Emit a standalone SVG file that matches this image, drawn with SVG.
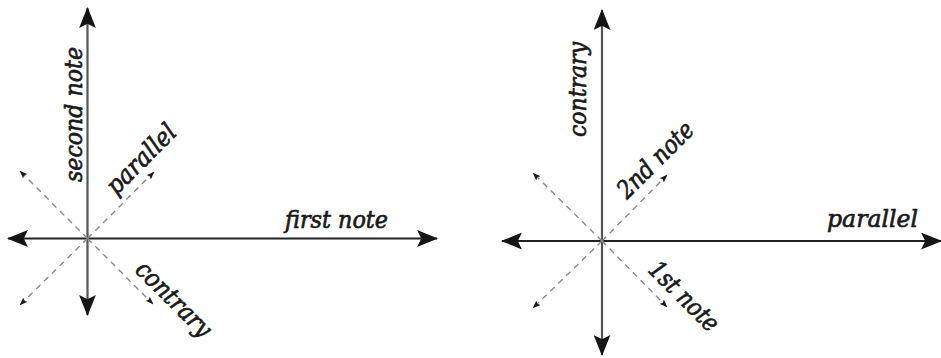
<svg xmlns="http://www.w3.org/2000/svg" width="941" height="358" viewBox="0 0 941 358">
<style>
.axis{stroke:#222;stroke-width:2.2;fill:none}
.axv{stroke:#555;stroke-width:2.2;fill:none}
.dash{stroke:#8a8a8a;stroke-width:1.4;stroke-dasharray:6 5;fill:none}
.lbl{font-family:"DejaVu Serif","Liberation Serif",serif;font-style:italic;font-size:25px;fill:#1a1a1a;stroke:#1a1a1a;stroke-width:0.7}
</style>
<defs>
<marker id="big" viewBox="0 0 20 16" markerUnits="userSpaceOnUse" markerWidth="21" markerHeight="17" refX="19" refY="8" orient="auto-start-reverse">
<path d="M0,0 L20,8 L0,16 L4,8 Z" fill="#151515"/>
</marker>
<marker id="small" viewBox="0 0 8 6" markerUnits="userSpaceOnUse" markerWidth="8" markerHeight="6" refX="7.5" refY="3" orient="auto">
<path d="M0,0 L8,3 L0,6 L1.5,3 Z" fill="#1a1a1a"/>
</marker>
</defs>
<g id="connectors">
<line class="axv" x1="87.5" y1="315" x2="87.5" y2="8" marker-start="url(#big)" marker-end="url(#big)"/>
<line class="axis" x1="8" y1="238.5" x2="437" y2="238.5" marker-start="url(#big)" marker-end="url(#big)"/>
<line class="dash" x1="87.5" y1="238.5" x2="20" y2="171" marker-end="url(#small)"/>
<line class="dash" x1="87.5" y1="238.5" x2="154" y2="172" marker-end="url(#small)"/>
<line class="dash" x1="87.5" y1="238.5" x2="20" y2="305" marker-end="url(#small)"/>
<line class="dash" x1="87.5" y1="238.5" x2="153" y2="304" marker-end="url(#small)"/>
<line class="axv" x1="602" y1="355" x2="602" y2="10" marker-start="url(#big)" marker-end="url(#big)"/>
<line class="axis" x1="502" y1="241" x2="941" y2="241" marker-start="url(#big)" marker-end="url(#big)"/>
<line class="dash" x1="602" y1="241" x2="533" y2="173" marker-end="url(#small)"/>
<line class="dash" x1="602" y1="241" x2="667" y2="175" marker-end="url(#small)"/>
<line class="dash" x1="602" y1="241" x2="533" y2="308" marker-end="url(#small)"/>
<line class="dash" x1="602" y1="241" x2="667" y2="307" marker-end="url(#small)"/>
</g>
<g id="label-first-note"><text class="lbl" x="285" y="228" textLength="103" lengthAdjust="spacingAndGlyphs">first note</text></g>
<g id="label-second-note"><text class="lbl" transform="translate(82,182) rotate(-90)" textLength="135" lengthAdjust="spacingAndGlyphs">second note</text></g>
<g id="label-parallel-left"><text class="lbl" transform="translate(116,196) rotate(-45)" textLength="88" lengthAdjust="spacingAndGlyphs">parallel</text></g>
<g id="label-contrary-left"><text class="lbl" transform="translate(134,271) rotate(45)" textLength="96" lengthAdjust="spacingAndGlyphs">contrary</text></g>
<g id="label-parallel-right"><text class="lbl" x="827" y="227" textLength="91" lengthAdjust="spacingAndGlyphs">parallel</text></g>
<g id="label-contrary-right"><text class="lbl" transform="translate(586,137) rotate(-90)" textLength="95" lengthAdjust="spacingAndGlyphs">contrary</text></g>
<g id="label-2nd-note"><text class="lbl" transform="translate(627,200) rotate(-45)" textLength="97" lengthAdjust="spacingAndGlyphs">2nd note</text></g>
<g id="label-1st-note"><text class="lbl" transform="translate(647,271) rotate(45)" textLength="88" lengthAdjust="spacingAndGlyphs">1st note</text></g>
</svg>
